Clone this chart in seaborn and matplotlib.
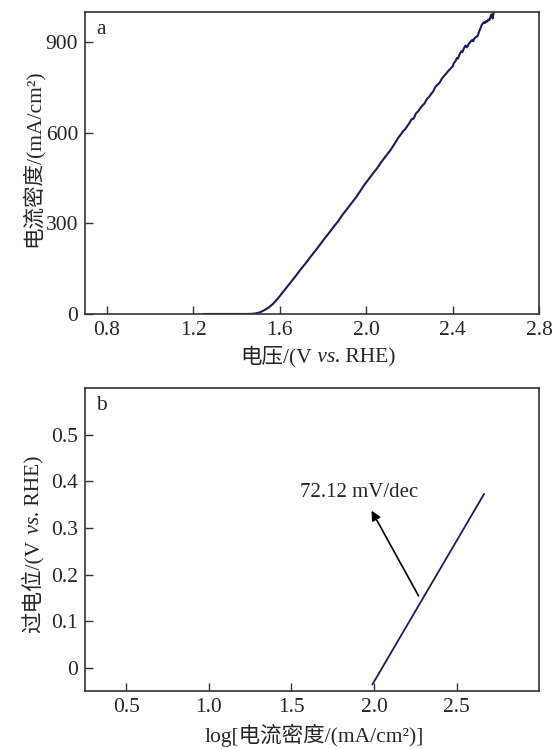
import numpy as np
import pandas as pd
import matplotlib
matplotlib.use("Agg")
import matplotlib.pyplot as plt
import seaborn as sns

# ---- data: panel a (polarisation curve) ----
voltage = [1.25, 1.30, 1.35, 1.40, 1.45, 1.47, 1.49, 1.51, 1.53, 1.55, 1.57, 1.59,
           1.61, 1.63, 1.65, 1.67, 1.69, 1.71, 1.73, 1.75, 1.77, 1.79, 1.81, 1.83,
           1.85, 1.87, 1.89, 1.91, 1.93, 1.95, 1.97, 1.99, 2.01, 2.03, 2.05, 2.07,
           2.09, 2.11, 2.13, 2.15, 2.16, 2.17, 2.18, 2.19, 2.20, 2.21, 2.22, 2.23,
           2.24, 2.25, 2.26, 2.27, 2.28, 2.29, 2.30, 2.31, 2.32, 2.33, 2.34, 2.35,
           2.36, 2.37, 2.38, 2.39,
           2.400, 2.405, 2.410, 2.415, 2.420, 2.425, 2.430, 2.435, 2.440, 2.445,
           2.450, 2.455, 2.460, 2.465, 2.470, 2.475, 2.480, 2.485, 2.490, 2.495,
           2.500, 2.505, 2.510, 2.515, 2.520, 2.525, 2.530, 2.535, 2.540, 2.545,
           2.550, 2.555, 2.560, 2.565, 2.570, 2.575, 2.580, 2.585, 2.590, 2.595]
current = [0, 0, 0, 0, 0, 0.5, 2, 6, 13, 22, 34, 50,
           68, 86, 104, 122, 141, 159, 177, 196, 214, 233, 252, 270,
           289, 307, 328, 346, 365, 383, 404, 426, 445, 464, 482, 503,
           522, 540, 562, 585, 594, 605, 611, 622, 632, 645, 647, 664,
           671, 681, 690, 697, 711, 718, 728, 737, 752, 759, 766, 779,
           788, 796, 805, 812,
           820, 830, 834, 840, 848, 846, 856, 864, 870, 867,
           876, 884, 889, 883, 887, 895, 899, 904, 907, 903,
           912, 915, 918, 920, 930, 940, 948, 958, 962, 966,
           964, 970, 968, 975, 973, 985, 992, 978, 1000, 1010]

# ---- data: panel b (Tafel plot) ----
log_j = [1.99, 2.667]
overpotential = [-0.036, 0.373]
tafel_label = "72.12 mV/dec"

xticks_a = [0.8, 1.2, 1.6, 2.0, 2.4, 2.8]
yticks_a = [0, 300, 600, 900]
xticks_b = [0.5, 1.0, 1.5, 2.0, 2.5]
yticks_b = [0, 0.1, 0.2, 0.3, 0.4, 0.5]

sns.set_theme(style="white")
FAM = ['Liberation Serif', 'Noto Sans CJK SC', 'DejaVu Sans']
plt.rcParams['font.family'] = FAM

FS = 15.5
line_color = "#1c1c5c"

fig = plt.figure(figsize=(5.6, 7.49), dpi=100)
ax1 = fig.add_axes([0.152, 0.5808, 0.8107, 0.4032])
ax2 = fig.add_axes([0.152, 0.0774, 0.8107, 0.4045])


def rich_label(pieces, cx, cy, rotation=0):
    """Draw consecutive text pieces (each with own style) centred at (cx, cy) fig-fraction.
    cy (horizontal) / cx (vertical) is the baseline position."""
    r = fig.canvas.get_renderer()
    W, H = fig.bbox.width, fig.bbox.height
    texts, widths = [], []
    for s, kw in pieces:
        t = fig.text(0, 0, s, ha="left", va="baseline", fontsize=FS,
                     rotation=0, rotation_mode="anchor", **kw)
        widths.append(t.get_window_extent(r).width)
        texts.append(t)
    total = sum(widths)
    if rotation == 0:
        x0 = cx * W - total / 2
        for t, w in zip(texts, widths):
            t.set_position((x0 / W, cy))
            x0 += w
    else:
        y0 = cy * H - total / 2
        for t, w in zip(texts, widths):
            t.set_rotation(90)
            t.set_position((cx, y0 / H))
            y0 += w


df_a = pd.DataFrame({"V": voltage, "J": current})
sns.lineplot(data=df_a, x="V", y="J", ax=ax1, color=line_color, linewidth=1.5,
             estimator=None, sort=False)
ax1.set_xlim(0.7, 2.8)
ax1.set_ylim(0, 1000)
ax1.set_xticks(xticks_a)
ax1.set_xticklabels([f"{t:.1f}" for t in xticks_a])
ax1.set_yticks(yticks_a)
ax1.set_yticklabels([str(t) for t in yticks_a])
ax1.set_xlabel("")
ax1.set_ylabel("")
ax1.text(0.025, 0.975, "a", transform=ax1.transAxes, fontsize=FS, va="top", ha="left")

df_b = pd.DataFrame({"x": log_j, "y": overpotential})
sns.lineplot(data=df_b, x="x", y="y", ax=ax2, color=line_color, linewidth=1.3,
             estimator=None, sort=False)
ax2.set_xlim(0.25, 3.0)
ax2.set_ylim(-0.05, 0.6)
ax2.set_xticks(xticks_b)
ax2.set_xticklabels([f"{t:.1f}" for t in xticks_b])
ax2.set_yticks(yticks_b)
ax2.set_yticklabels(["0"] + [f"{t:.1f}" for t in yticks_b[1:]])
ax2.set_xlabel("")
ax2.set_ylabel("")
ax2.text(0.025, 0.975, "b", transform=ax2.transAxes, fontsize=FS, va="top", ha="left")
ax2.annotate("", xy=(1.985, 0.337), xytext=(2.27, 0.154),
             arrowprops=dict(arrowstyle="-|>", color="black", lw=1.2,
                             mutation_scale=14, shrinkA=0, shrinkB=0))
ax2.text(1.91, 0.376, tafel_label, fontsize=FS - 0.5, ha="center", va="center")

for ax in (ax1, ax2):
    for s in ax.spines.values():
        s.set_visible(True)
        s.set_color("#333333")
        s.set_linewidth(1.2)
    ax.tick_params(axis="both", which="both", direction="in", length=6, width=1.0,
                   labelsize=FS, bottom=True, left=True, top=False, right=False,
                   color="#333333", pad=5)

ital = dict(family=['Liberation Serif'], style="italic")
rom = dict(family=FAM)

# axis labels with italic "vs."
rich_label([("电压/(V", rom), (" vs.", ital), (" RHE)", rom)], 318 / 560, 1 - 362 / 749)
rich_label([("log[电流密度/(mA/cm²)]", rom)], 314 / 560, 1 - 742 / 749)
rich_label([("电流密度/(mA/cm²)", rom)], 39 / 560, 1 - 158 / 749, rotation=90)
rich_label([("过电位/(V", rom), (" vs.", ital), (" RHE)", rom)], 39 / 560, 1 - 544 / 749,
           rotation=90)

fig.savefig("out.png", dpi=100)
